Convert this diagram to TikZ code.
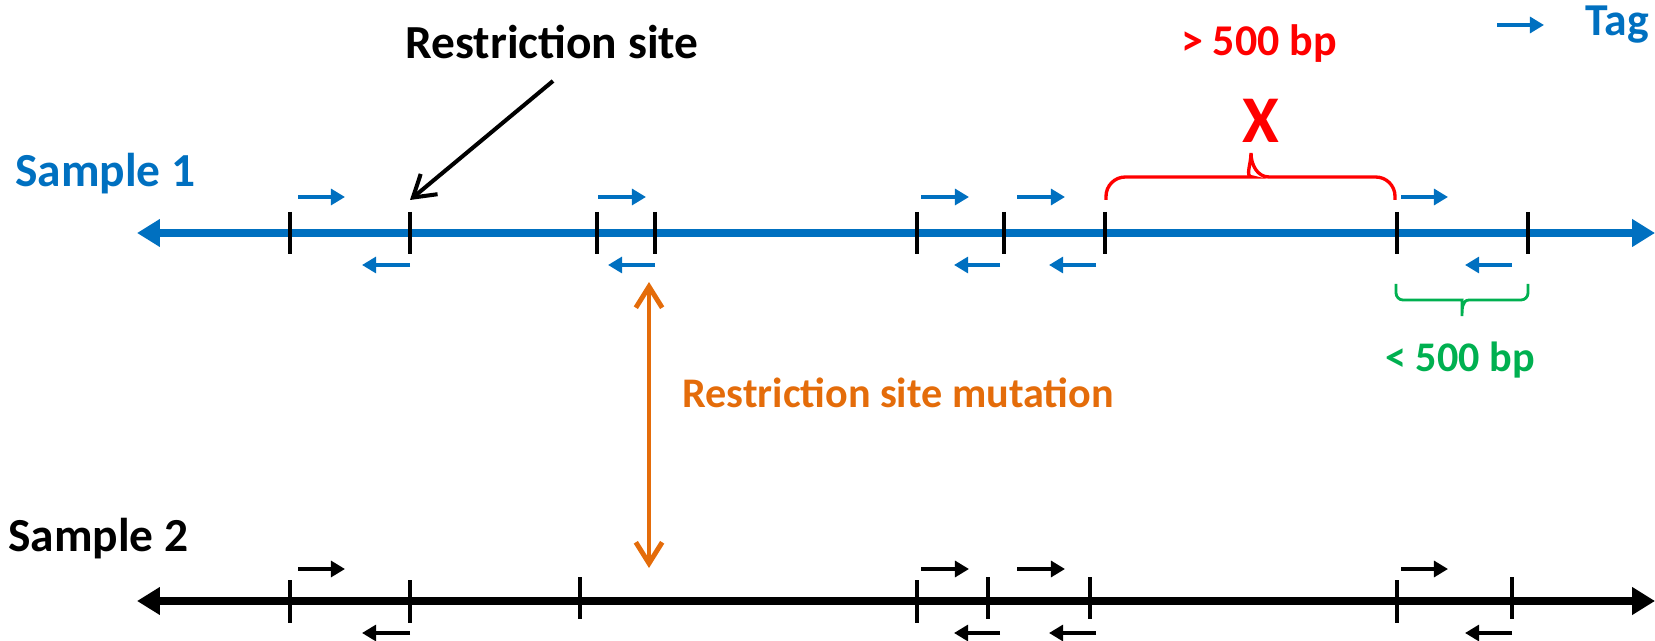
\documentclass[tikz,border=0pt]{standalone}
\usepackage{fontspec}
\setmainfont{Carlito}
\usetikzlibrary{arrows.meta,positioning}
\definecolor{tagblue}{HTML}{0070C0}
\definecolor{mutorange}{HTML}{E46C0A}
\definecolor{okgreen}{HTML}{00B050}
\definecolor{bigred}{HTML}{FF0000}
\tikzset{
  dna/.style={line width=4.6pt,{Triangle[length=13pt,width=15pt]}-{Triangle[length=13pt,width=15pt]}},
  site/.style={black,line width=2.3pt},
  tagarrow/.style={line width=2.8pt,-{Triangle[length=8pt,width=9pt]}},
  lbl/.style={inner sep=0pt,font=\bfseries\fontsize{27}{32}\selectfont},
  smalllbl/.style={inner sep=0pt,font=\bfseries\fontsize{24}{29}\selectfont},
}

\begin{document}
\begin{tikzpicture}[x=0.02cm,y=-0.02cm]
\useasboundingbox (0,0) rectangle (1655,641);
% labels
\node (s1lbl) [lbl,tagblue,anchor=base west] at (15,187) {Sample 1};
\node (s2lbl) [lbl,black,anchor=base west] at (8,551) {Sample 2};
\node (rslbl) [lbl,black,anchor=base] at (552,59) {Restriction site};
\node (bigbp) [smalllbl,bigred,anchor=base,font=\bfseries\fontsize{25}{30}\selectfont] at (1259,56) {> 500 bp};
\node (cross) [inner sep=0pt,bigred,anchor=base,font=\bfseries\fontsize{38}{44}\selectfont] at (1261,143) {X};
\node (smallbp) [smalllbl,okgreen,anchor=base] at (1460,372) {< 500 bp};
\node (taglbl) [smalllbl,tagblue,anchor=base west,font=\bfseries\fontsize{26}{31}\selectfont] at (1585,36) {Tag};
\node (mutlbl) [smalllbl,mutorange,anchor=base west] at (682,408) {Restriction site mutation};
%
\coordinate (s1l) at (137,233);
\coordinate (s1r) at (1655,233);
\coordinate (s2l) at (137,601);
\coordinate (s2r) at (1655,601);
\coordinate (rsfrom) at (553,81);
\coordinate (rstip) at (410,200);
\coordinate (mtop) at (649,282);
\coordinate (mbot) at (649,568);
\coordinate (legl) at (1497,25);
\coordinate (legr) at (1544,25);
%
% sample 1
\draw[dna,tagblue] (s1l) -- (s1r);
\path[site] (290,212) edge (290,254) (410,212) edge (410,254) (597,212) edge (597,254)
  (655,212) edge (655,254) (917,212) edge (917,254) (1004,212) edge (1004,254)
  (1105,212) edge (1105,254) (1397,212) edge (1397,254) (1528,212) edge (1528,254);
\path[tagarrow,tagblue] (298,197) edge (345,197) (598,197) edge (646,197) (921,197) edge (969,197)
  (1017,197) edge (1065,197) (1401,197) edge (1448,197);
\path[tagarrow,tagblue] (410,265) edge (362,265) (655,265) edge (608,265) (1000,265) edge (954,265)
  (1096,265) edge (1049,265) (1512,265) edge (1465,265);
%
% sample 2
\draw[dna,black] (s2l) -- (s2r);
\path[site] (290,580) edge (290,623) (410,580) edge (410,623) (580,577) edge (580,619)
  (917,580) edge (917,623) (988,577) edge (988,619) (1090,577) edge (1090,619)
  (1397,580) edge (1397,623) (1512,577) edge (1512,619);
\path[tagarrow,black] (298,569) edge (345,569) (921,569) edge (969,569)
  (1017,569) edge (1065,569) (1401,569) edge (1448,569);
\path[tagarrow,black] (410,633) edge (362,633) (1000,633) edge (954,633)
  (1096,633) edge (1049,633) (1512,633) edge (1465,633);
%
% braces
\draw[bigred,line width=1.9pt] (1106,200) [rounded corners=11pt] |- (1233,177) [sharp corners]
  to[out=0,in=-90] (1251,153) to[out=-90,in=180] (1269,177) [rounded corners=11pt] -| (1395,200);
\draw[okgreen,line width=1.6pt] (1396,284) [rounded corners=4pt] |- (1455,300) [sharp corners]
  to[out=0,in=90] (1462,316) to[out=90,in=180] (1469,300) [rounded corners=4pt] -| (1528,284);
%
\draw[black,line width=2.3pt,-{Straight Barb[length=12pt,width=15pt]}] (rsfrom) -- (rstip);
\draw[mutorange,line width=2.8pt,line cap=round,{Straight Barb[length=12pt,width=15pt]}-{Straight Barb[length=12pt,width=15pt]}] (mtop) -- (mbot);
\draw[tagarrow,tagblue] (legl) -- (legr);
\end{tikzpicture}
\end{document}
